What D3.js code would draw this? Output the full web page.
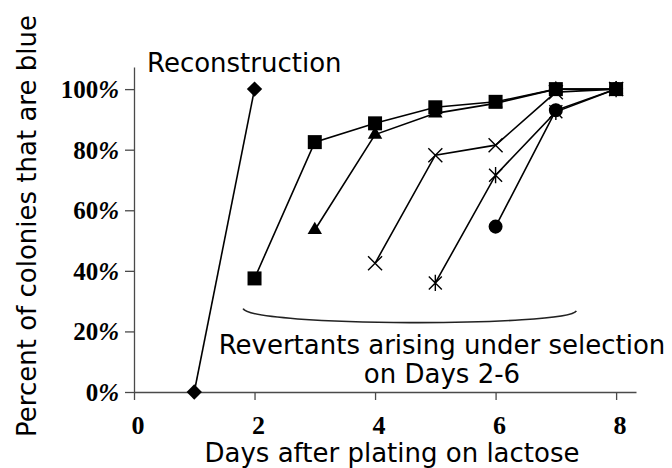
<!DOCTYPE html>
<html>
<head>
<meta charset="utf-8">
<script src="https://d3js.org/d3.v7.min.js"></script>
<style>
  body { margin: 0; background: #fff; }
  svg { display: block; }
</style>
</head>
<body>
<div id="chart_area"></div>
<script>
    // data (percent blue colonies per day)
    let reconDays = [1, 2];
    let reconPct = [0, 100];

    let day2Days = [2, 3, 4, 5, 6, 7, 8];
    let day2Pct = [37.5, 82.5, 88.7, 94, 95.8, 100, 100];

    let day3Days = [3, 4, 5, 6, 7, 8];
    let day3Pct = [53.5, 85, 92, 95.3, 100, 100];

    let day4Days = [4, 5, 6, 7, 8];
    let day4Pct = [42.5, 78.2, 81.5, 99, 100];

    let day5Days = [5, 6, 7, 8];
    let day5Pct = [36, 71.6, 92.5, 100];

    let day6Days = [6, 7, 8];
    let day6Pct = [54.6, 93, 100];

    let xTicks = [0, 2, 4, 6, 8];
    let yTicks = [0, 20, 40, 60, 80, 100];

    let width = 672;
    let height = 468;

    let svg = d3.select("#chart_area").append("svg")
        .attr("width", width)
        .attr("height", height);

    let x = d3.scaleLinear().domain([0, 8.33]).range([134, 636]);
    let y = d3.scaleLinear().domain([0, 107.3]).range([392, 67]);

    let axisColor = "#4a4a4a";

    // y axis
    let yAxis = svg.append("g")
        .attr("transform", `translate(${x(0)},0)`)
        .call(d3.axisLeft(y).tickValues(yTicks).tickSize(9).tickSizeOuter(0).tickFormat(""));
    yAxis.select(".domain").attr("stroke", axisColor).attr("stroke-width", 1.3);
    yAxis.selectAll(".tick line").attr("stroke", axisColor).attr("stroke-width", 1.3);

    // y tick labels, bold serif with slanted percent sign
    let yLab = svg.selectAll(".ylab")
        .data(yTicks)
        .join("text")
        .attr("class", "ylab")
        .attr("x", x(0) - 15)
        .attr("y", d => y(d) + 9)
        .attr("text-anchor", "end")
        .style("font-family", "'Liberation Serif', 'Times New Roman', serif")
        .style("font-weight", "bold")
        .style("font-size", "25px");
    yLab.append("tspan").text(d => d);
    yLab.append("tspan").attr("font-style", "italic").text("%");

    // x axis
    let xAxis = svg.append("g")
        .attr("transform", `translate(0,${y(0)})`)
        .call(d3.axisBottom(x).tickValues(xTicks).tickSize(8).tickSizeOuter(0).tickFormat(""));
    xAxis.select(".domain").attr("stroke", axisColor).attr("stroke-width", 1.3);
    xAxis.selectAll(".tick line").attr("stroke", axisColor).attr("stroke-width", 1.3);

    svg.selectAll(".xlab")
        .data(xTicks)
        .join("text")
        .attr("class", "xlab")
        .attr("x", d => x(d) + 4)
        .attr("y", 434)
        .attr("text-anchor", "middle")
        .style("font-family", "'Liberation Serif', 'Times New Roman', serif")
        .style("font-weight", "bold")
        .style("font-size", "26px")
        .text(d => d);

    // axis titles
    let sans = "'DejaVu Sans', Verdana, sans-serif";
    svg.append("text")
        .attr("x", 392)
        .attr("y", 462)
        .attr("text-anchor", "middle")
        .style("font-family", sans)
        .style("font-size", "26px")
        .text("Days after plating on lactose");

    svg.append("text")
        .attr("transform", "translate(36,226) rotate(-90)")
        .attr("text-anchor", "middle")
        .style("font-family", sans)
        .style("font-size", "26px")
        .text("Percent of colonies that are blue");

    // annotations
    svg.append("text")
        .attr("x", 147)
        .attr("y", 72)
        .style("font-family", sans)
        .style("font-size", "26px")
        .text("Reconstruction");

    svg.append("text")
        .attr("x", 442)
        .attr("y", 354)
        .attr("text-anchor", "middle")
        .style("font-family", sans)
        .style("font-size", "26px")
        .text("Revertants arising under selection");

    svg.append("text")
        .attr("x", 442)
        .attr("y", 383)
        .attr("text-anchor", "middle")
        .style("font-family", sans)
        .style("font-size", "26px")
        .text("on Days 2-6");

    // brace under the selection curves
    svg.append("path")
        .attr("d", `M${x(1.81)},${y(27.5)} C${x(1.95)},${y(21.5)} ${x(7.2)},${y(21.5)} ${x(7.34)},${y(26.8)}`)
        .attr("fill", "none")
        .attr("stroke", "#222")
        .attr("stroke-width", 1.6);

    // marker shapes
    function xMark(s) {
        return `M${-s},${-s}L${s},${s}M${-s},${s}L${s},${-s}`;
    }
    function starMark(s) {
        return xMark(s) + `M0,${-s * 1.25}L0,${s * 1.25}`;
    }

    let line = d3.line()
        .x(d => x(d.day))
        .y(d => y(d.pct));

    function toPoints(days, pct) {
        return days.map((d, i) => ({ day: d, pct: pct[i] }));
    }

    let series = [
        { name: "recon", pts: toPoints(reconDays, reconPct), marker: "diamond" },
        { name: "day6", pts: toPoints(day6Days, day6Pct), marker: "circle" },
        { name: "day5", pts: toPoints(day5Days, day5Pct), marker: "star" },
        { name: "day4", pts: toPoints(day4Days, day4Pct), marker: "x" },
        { name: "day3", pts: toPoints(day3Days, day3Pct), marker: "triangle" },
        { name: "day2", pts: toPoints(day2Days, day2Pct), marker: "square" }
    ];

    // lines first
    svg.selectAll(".series")
        .data(series)
        .join("path")
        .attr("class", "series")
        .attr("d", d => line(d.pts))
        .attr("fill", "none")
        .attr("stroke", "#000")
        .attr("stroke-width", 1.6);

    // then markers
    series.forEach(s => {
        let g = svg.append("g");
        let pts = g.selectAll("path")
            .data(s.pts)
            .join("path")
            .attr("transform", d => `translate(${x(d.day)},${y(d.pct)})`);
        if (s.marker == "square") {
            pts.attr("d", d3.symbol(d3.symbolSquare, 196)).attr("fill", "#000");
        } else if (s.marker == "triangle") {
            pts.attr("d", d3.symbol(d3.symbolTriangle, 90)).attr("fill", "#000");
        } else if (s.marker == "circle") {
            pts.attr("d", d3.symbol(d3.symbolCircle, 154)).attr("fill", "#000");
        } else if (s.marker == "diamond") {
            pts.attr("d", d3.symbol(d3.symbolSquare, 118)).attr("fill", "#000")
                .attr("transform", d => `translate(${x(d.day)},${y(d.pct)}) rotate(45)`);
        } else if (s.marker == "x") {
            pts.attr("d", xMark(7)).attr("fill", "none").attr("stroke", "#000").attr("stroke-width", 1.4);
        } else if (s.marker == "star") {
            pts.attr("d", starMark(6.5)).attr("fill", "none").attr("stroke", "#000").attr("stroke-width", 1.4);
        }
    });
</script>
</body>
</html>
